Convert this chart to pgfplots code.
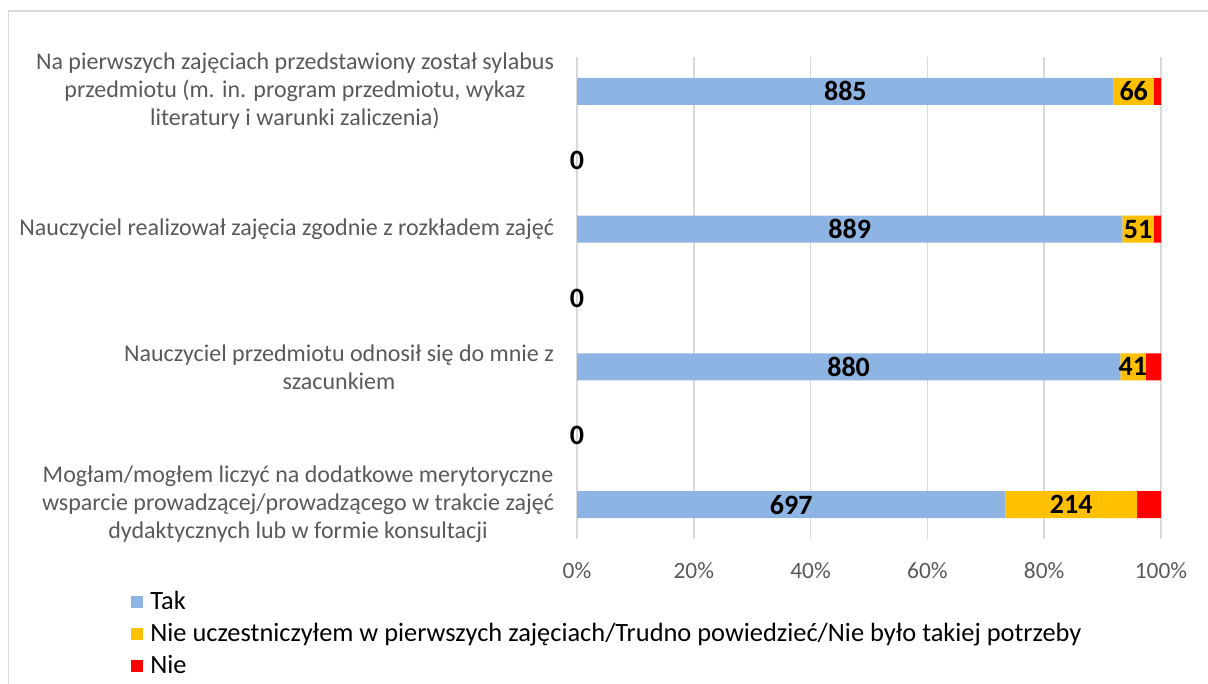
\documentclass[border=0pt]{standalone}
\usepackage{fontspec}
\setmainfont{Carlito}
\usepackage{pgfplots}
\usepackage{pgfplotstable}
\pgfplotsset{compat=1.18}
\definecolor{takblue}{HTML}{8EB4E3}
\definecolor{uczyellow}{HTML}{FFC000}
\definecolor{niered}{HTML}{FF0000}
\definecolor{gridgray}{HTML}{D9D9D9}
\definecolor{txtgray}{HTML}{595959}
\pgfplotstableread{
y tak ucz nie
0 885 66 12
1 0 0 0
2 889 51 12
3 0 0 0
4 880 41 25
5 0 0 0
6 697 214 39
}\data
\newcommand{\lblfont}{\fontsize{12}{14}\selectfont}
\newcommand{\tickfont}{\fontsize{11.7}{14}\selectfont}
\newcommand{\legfont}{\fontsize{13.2}{15}\selectfont}
\begin{document}
\begin{tikzpicture}
\useasboundingbox (0,0) rectangle (604pt,-342pt);
\draw[gridgray, line width=0.75pt] (4.3pt,-400pt) -- (4.3pt,-5.5pt) -- (700pt,-5.5pt);
\pgfplotsset{
  base/.style={
    at={(288.5pt,-269.5pt)}, anchor=south west,
    scale only axis, width=292pt, height=241pt,
    xmin=0, xmax=100, ymin=-0.5, ymax=6.5, y dir=reverse,
  }
}
\begin{axis}[base,
  xbar stacked, bar width=13.5pt,
  axis line style={draw=none},
  major tick length=0pt,
  xtick={0,20,40,60,80,100},
  xmajorgrids, major grid style={gridgray, line width=0.75pt},
  /pgf/number format/assume math mode=true,
  xticklabel={\pgfmathprintnumber{\tick}\%},
  xticklabel style={font=\tickfont, text=txtgray, yshift=-8pt},
  ytick={0,2,4,6},
  yticklabels={
    {Na pierwszych zajęciach przedstawiony został sylabus\\przedmiotu (m. in. program przedmiotu, wykaz\\literatury i warunki zaliczenia)},
    {Nauczyciel realizował zajęcia zgodnie z rozkładem zajęć},
    {Nauczyciel przedmiotu odnosił się do mnie z\\szacunkiem},
    {Mogłam/mogłem liczyć na dodatkowe merytoryczne\\wsparcie prowadzącej/prowadzącego w trakcie zajęć\\dydaktycznych lub w formie konsultacji}},
  yticklabel style={font=\lblfont, text=txtgray, align=center, xshift=-8pt},
  legend style={at={(axis description cs:-0.7637,-0.1)}, anchor=north west,
    draw=none, fill=none, inner sep=0pt, font=\legfont, row sep=1.2pt,
    nodes={inner xsep=3.5pt}},
  legend cell align=left,
  legend image code/.code={\fill[#1] (0pt,-3pt) rectangle (6pt,3pt);},
]
\addplot[fill=takblue, draw=none] table[x expr={\thisrow{tak}/max(\thisrow{tak}+\thisrow{ucz}+\thisrow{nie},1)*100}, y=y]{\data};
\addlegendentry{Tak}
\addplot[fill=uczyellow, draw=none] table[x expr={\thisrow{ucz}/max(\thisrow{tak}+\thisrow{ucz}+\thisrow{nie},1)*100}, y=y]{\data};
\addlegendentry{Nie uczestniczyłem w pierwszych zajęciach/Trudno powiedzieć/Nie było takiej potrzeby}
\addplot[fill=niered, draw=none] table[x expr={\thisrow{nie}/max(\thisrow{tak}+\thisrow{ucz}+\thisrow{nie},1)*100}, y=y]{\data};
\addlegendentry{Nie}
\end{axis}
\begin{axis}[base, hide axis,
  /pgf/number format/assume math mode=true,
  every node near coord/.style={font=\fontsize{14}{16}\selectfont\bfseries, text=black, anchor=center},
]
\addplot[only marks, mark options={draw=none, fill=none}, point meta=explicit, nodes near coords]
  table[x expr={\thisrow{tak}/2/max(\thisrow{tak}+\thisrow{ucz}+\thisrow{nie},1)*100}, y=y, meta=tak]{\data};
\addplot[only marks, mark options={draw=none, fill=none}, point meta=explicit,
  nodes near coords={\pgfmathfloatifflags{\pgfplotspointmeta}{0}{}{\pgfmathprintnumber{\pgfplotspointmeta}}}]
  table[x expr={(\thisrow{tak}+\thisrow{ucz}/2)/max(\thisrow{tak}+\thisrow{ucz}+\thisrow{nie},1)*100}, y=y, meta=ucz]{\data};
\end{axis}
\end{tikzpicture}
\end{document}
